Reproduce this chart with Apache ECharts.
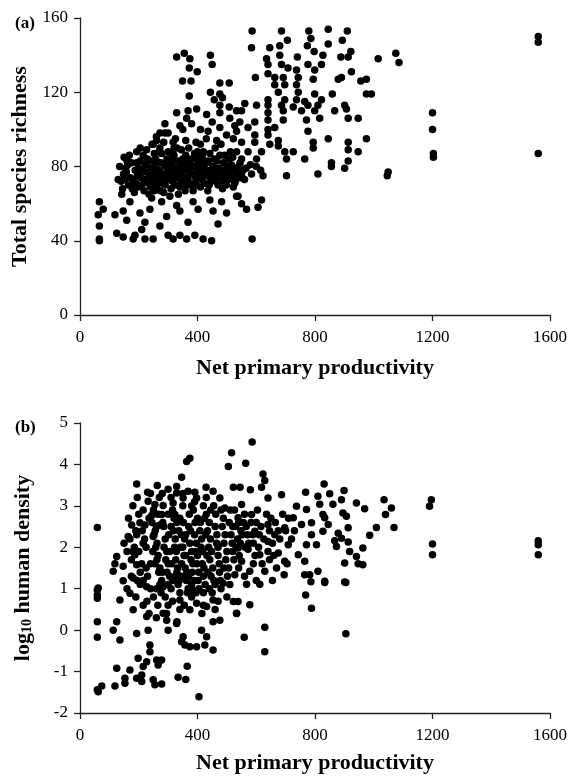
<!DOCTYPE html>
<html>
<head>
<meta charset="utf-8">
<script src="https://cdn.jsdelivr.net/npm/echarts@6/dist/echarts.min.js"></script>
<style>
  html, body { margin: 0; padding: 0; background: #fff; }
  #chart { width: 574px; height: 776px; }
</style>
</head>
<body>
<div id="chart"></div>
<script>
// (a) net primary productivity vs total species richness
const richnessPts = [
  [329,139],[355,141],[374,138],[372,133],[399,131],[444,140],[450,135],[349,126],[378,126],[372,118],
  [476,125],[508,125],[444,120],[476,119],[457,116],[485,117],[476,113],[508,112],[476,109],[329,109],
  [368,110],[397,111],[431,108],[363,106],[289,103],[340,102],[510,106],[533,110],[527,102],[272,98],
  [289,98],[476,101],[436,99],[499,97],[261,94],[249,92],[317,93],[522,95],[193,88],[227,89],[272,90],
  [130,73],[66,61],[79,57],[62,54],[66,48],[66,41],[66,40],[142,65],[170,61],[119,54],[147,56],[159,51],
  [125,44],[147,42],[181,41],[187,43],[221,41],[249,41],[210,46],[204,55],[221,50],[238,57],[272,48],
  [295,53],[300,43],[317,41],[340,43],[363,41],[391,43],[419,41],[448,40],[340,56],[368,50],[329,59],
  [385,61],[402,57],[453,56],[470,49],[499,55],[482,61],[533,64],[442,62],[278,61],[306,64],[244,63],
  [522,69],[499,76],[510,73],
  [586,153],[686,153],[779,153],[845,154],[910,153],[584,144],[646,144],[680,145],[706,148],[786,149],
  [774,145],[845,146],[893,148],[922,142],[797,142],[635,138],[680,140],[740,139],[827,140],[888,139],
  [913,139],[1015,138],[640,135],[686,135],[776,135],[822,135],[640,130],[708,133],[737,132],[799,132],
  [597,128],[663,128],[692,128],[743,128],[794,127],[890,128],[924,131],[956,126],[975,127],[879,127],
  [663,124],[697,124],[737,124],[675,120],[743,120],[799,119],[859,119],[975,119],[992,119],[640,116],
  [697,116],[737,116],[765,115],[822,116],[561,114],[601,113],[640,113],[686,113],[726,112],[776,113],
  [810,113],[901,113],[550,110],[640,109],[692,110],[754,110],[799,110],[867,110],[907,111],[544,104],
  [595,104],[640,105],[692,105],[771,105],[816,106],[913,106],[947,106],[572,101],[640,100],[663,101],
  [533,99],[595,97],[640,97],[776,99],[845,95],[975,95],[913,93],[913,89],[947,88],[794,93],[794,90],
  [550,93],[595,93],[675,94],[646,92],[675,91],[572,88],[618,88],[697,88],[726,88],[533,88],[703,84],
  [765,84],[856,82],[913,83],[601,84],[550,84],
  [856,80],[901,79],[810,76],[703,75],[1049,77],[1046,75],[623,75],[584,76],[550,75],[538,64],[550,60],
  [567,57],[618,62],[606,58],[586,41],[527,71],[540,80],[555,78],[545,82],[565,79],[580,81],[600,80],
  [615,78],[560,73],[530,77],
  [1075,141],[1086,136],[1200,109],[1200,100],[1203,87],[1203,85],[1560,150],[1560,147],[1560,87],
  [140,72],[148,76],[155,79],[160,83],[165,70],[172,74],[178,68],[135,80],[150,85],
  [185,66],[190,71],[196,75],[200,79],[205,83],[210,70],[215,86],[220,73],[225,77],[228,81],[218,67],
  [235,65],[240,69],[245,72],[250,76],[255,80],[258,84],[262,70],[266,74],[270,78],[275,82],[278,87],[252,67],
  [285,66],[290,70],[294,73],[298,77],[302,80],[306,84],[310,68],[314,72],[318,76],[322,79],[326,83],[300,88],[288,81],
  [335,65],[340,69],[344,72],[348,75],[352,78],[356,82],[360,86],[364,70],[368,73],[372,77],[376,80],[380,84],
  [345,89],[370,90],[358,67],
  [385,67],[390,71],[394,74],[398,77],[402,81],[406,85],[410,69],[414,73],[418,76],[422,79],[426,83],[400,88],
  [435,67],[440,70],[444,74],[448,77],[452,80],[458,84],[462,72],[468,76],[472,79],[476,86],
  [485,68],[490,72],[495,76],[500,80],[505,84],[512,88],[518,74],[525,79],
  [230,84],[270,88],[320,86],[330,90],[390,87],[420,88],[460,90],[175,82],[200,76],[280,74],[340,80],[430,82],
  [145,68],[152,73],[158,77],[163,81],[168,86],[182,72],[188,78],[193,82],[198,69],[208,74],[212,78],[222,81],
  [232,71],[238,75],[243,79],[248,83],[253,87],[260,73],[264,77],[268,82],[273,67],[282,71],[286,76],[292,80],
  [296,84],[304,74],[308,78],[312,82],[316,87],[324,70],[328,74],[332,78],[336,83],[342,76],[346,79],[350,84],
  [354,71],[362,74],[366,79],[374,83],[378,70],[382,76],[388,80],[392,84],[396,70],[404,74],[408,78],[412,82],
  [416,86],[424,71],[428,75],[432,78],[438,83],[442,87],[446,72],[454,75],[460,79],[466,83],[470,70],[478,74],
  [482,78],[488,82],[492,86],[498,70],[502,75],[508,77],[515,81],[520,85],[528,72],[535,76],[545,74],
  [205,90],[245,92],[285,93],[325,95],[360,94],[395,93],[430,95],[465,94],[300,98],[350,100],[410,100],
  [450,104],[380,103],[260,96],[320,90],[410,92],[480,92]
];

// (b) net primary productivity vs log10 human density
const densityPts = [
  [516,4.28],[505,3.95],[374,4.15],[363,4.07],[346,3.69],[193,3.53],[263,3.49],[230,3.33],[329,3.47],[329,3.31],
  [368,3.35],[391,3.33],[429,3.45],[453,3.35],[522,3.45],[232,3.11],[255,3.03],[283,3.01],[317,3.07],[351,3.19],
  [397,3.19],[476,3.19],[493,2.95],[244,2.77],[278,2.79],[323,2.79],[59,2.48],[176,2.54],[204,2.59],[221,2.54],
  [270,2.53],[164,2.26],[193,2.30],[249,2.26],[215,2.10],[125,1.78],[119,1.60],[147,1.54],[113,1.42],[187,1.82],
  [193,1.58],[147,1.19],[181,1.26],[62,1.02],
  [59,0.97],[59,0.85],[59,0.77],[59,0.20],[59,-0.17],[59,-1.44],[62,-1.49],[74,-1.35],[119,-1.35],[125,-0.92],
  [136,-0.24],[113,0.0],[125,0.20],[153,-1.16],[153,-1.28],[170,-0.96],[193,-0.08],[198,-0.68],[193,-1.16],
  [210,-1.08],[215,-0.88],[227,-0.76],[210,-1.24],[232,0.0],[238,-0.36],[238,-0.52],[249,-1.20],[255,-1.32],
  [261,-0.72],[266,-0.84],[278,-0.72],[278,-1.30],[334,-1.14],[360,-1.19],[365,-0.87],[405,-1.61],[300,0.0],
  [295,0.24],[329,0.16],[346,-0.28],[357,-0.36],[374,-0.40],[397,-0.40],[351,-0.16],[425,-0.36],[431,-0.16],
  [453,-0.48],[414,0.0],[453,0.20],[476,0.24],[533,0.40],[522,0.69],[136,0.73],[170,0.89],[181,0.49],[227,0.33],
  [283,0.41],[374,0.49],[340,0.73],[397,0.65],[431,0.57],[453,0.73],[227,1.05],[283,1.05],[385,0.97],[487,1.13],
  [586,4.54],[564,4.03],[623,3.77],[629,3.61],[618,3.45],[545,3.45],[580,3.39],[831,3.53],[768,3.33],[850,3.29],
  [899,3.37],[810,3.23],[816,3.04],[861,3.04],[890,3.15],[941,3.07],[969,2.93],[1035,3.15],[1060,2.95],[1040,2.79],
  [895,2.83],[907,2.75],[913,2.47],[833,2.71],[845,2.55],[1009,2.48],[986,2.29],[1069,2.48],[879,2.34],[890,2.22],
  [913,2.13],[867,2.16],[873,2.02],[963,1.98],[918,1.90],[941,1.78],[901,1.62],[947,1.60],[963,1.58],[833,1.18],
  [901,1.16],[810,1.42],[782,1.34],[765,1.34],[695,1.34],[669,1.50],[697,1.66],[765,1.66],[743,1.82],[771,2.06],
  [805,2.06],[788,2.30],[827,2.39],[754,2.55],[788,2.59],[827,2.79],[771,2.91],[737,2.99],[686,3.27],[640,3.19],
  [726,2.71],[697,2.47],[640,2.55],[584,2.79],[550,3.03],[538,2.71],[595,2.39],[663,2.30],[640,2.14],[709,2.06],
  [538,1.98],[572,1.95],[612,1.82],[640,1.90],[675,1.86],[550,1.66],[578,1.42],[629,1.42],[567,1.11],[612,1.11],
  [527,1.34],
  [538,0.69],[578,0.61],[533,0.41],[629,0.07],[559,-0.17],[629,-0.52],[768,0.85],[788,0.53],[786,1.17],[833,1.15],
  [905,1.15],[905,-0.09],
  [1196,3.15],[1190,2.99],[1200,2.08],[1200,1.82],[1560,2.16],[1560,2.06],[1560,1.82],
  [245,2.6],[252,2.3],[258,2.0],[262,1.7],[268,1.4],[272,1.1],[276,0.9],[248,1.9],[265,2.8],
  [285,2.5],[290,2.2],[295,1.9],[300,1.6],[305,1.3],[310,1.0],[315,2.9],[318,2.4],[322,2.0],[326,1.7],[330,1.4],
  [334,1.1],[290,0.8],
  [340,2.7],[345,2.3],[350,2.0],[354,1.8],[358,1.5],[362,1.2],[366,0.9],[370,2.5],[374,2.1],[378,1.7],[382,1.4],
  [386,2.9],[390,2.3],[394,1.9],[398,1.6],[402,1.2],
  [410,2.6],[414,2.2],[418,1.9],[422,1.5],[426,1.1],[430,2.8],[434,2.4],[438,2.0],[442,1.7],[446,1.3],[450,0.9],
  [455,3.0],[460,2.5],[465,2.1],[470,1.8],[475,1.4],[480,1.0],
  [488,2.7],[494,2.3],[500,1.9],[506,1.5],[512,2.9],[518,2.1],[524,1.7],[530,2.5],[536,2.2],[542,1.8],[548,2.4],
  [556,2.6],[562,2.0],[570,2.3],[590,2.1],[600,2.6],[610,2.3],[620,1.6],[650,2.7],[660,1.8],[680,2.2],[700,2.4],
  [720,2.2],[705,1.6],
  [200,1.9],[210,1.6],[220,2.2],[230,1.3],[235,2.7],[215,1.2],[200,2.8],[185,2.0],[175,1.7],[170,2.2],[160,1.9],
  [240,1.0],[228,0.7],
  [300,2.8],[330,2.6],[360,2.3],[400,2.7],[420,3.0],[445,2.9],[380,3.0],[350,3.3],[310,3.2],[270,3.2],[300,0.6],
  [340,0.5],[380,0.8],[420,0.6],[460,0.5],[500,0.8],[330,0.2],[260,0.3],
  [250,2.9],[256,2.4],[262,2.1],[266,1.8],[272,1.5],[278,1.2],[282,2.6],[286,2.0],[292,1.7],[296,1.4],[302,2.3],
  [306,1.9],[312,1.6],[316,1.2],[320,2.7],[324,2.2],[328,1.9],[332,1.5],[336,2.4],[338,1.2],[342,2.0],[346,1.6],
  [352,2.6],[356,2.2],[360,1.8],[364,1.4],[368,1.0],[372,2.8],[376,2.4],[380,1.9],[384,1.6],[388,1.2],[392,2.6],
  [396,2.1],[400,1.8],[404,1.4],[408,2.4],[412,2.0],[416,1.6],[420,1.3],[424,2.7],[428,2.3],[432,1.8],[436,1.4],
  [440,2.6],[444,2.2],[448,1.9],[452,1.5],[456,1.2],[462,2.8],[466,2.3],[470,2.0],[474,1.6],[478,1.2],[484,2.5],
  [490,2.1],[496,1.7],[502,1.3],[508,2.6],[514,2.3],[520,1.9],[526,2.9],[532,2.0],[540,2.6],[546,2.1],[552,2.3],
  [560,2.8],[566,2.5],[574,2.1],[582,2.6],[588,2.3],[596,1.8],[604,2.9],[608,2.0],[616,2.5],[626,2.2],[635,2.8],
  [645,2.4],[655,2.1],[665,2.6],[675,2.4],[690,2.8],[710,2.7],[730,2.4],[260,1.0],[300,1.1],[340,0.9],[380,1.1],
  [420,0.9],[460,1.1],[240,1.6],[225,2.0],[212,2.4],[190,2.4],[180,1.9],[205,1.4],[350,3.0],[390,3.1],[430,3.2],
  [280,3.3],[300,3.4],[310,2.5],[255,1.6],[520,2.5],[480,2.9],
  [160,1.0],[175,1.3],[190,0.8],[205,1.1],[215,0.6],[235,0.4],[250,0.8],[265,0.6],[280,1.4],[295,0.4],[315,0.7],
  [325,1.3],[345,1.3],[355,0.6],[370,1.3],[395,0.9],[405,1.0],[415,0.4],[440,1.0],[470,0.7],[490,1.5],[510,1.1],
  [540,1.5],[560,1.3],[590,1.6],[600,1.2],[645,1.7],[655,1.2],[150,2.1],[165,2.7],[180,3.0],[195,3.2],[215,2.9],
  [240,3.3],[260,2.5],[225,1.5],[195,1.2]
];

const xRange = [0, 1600, 400];
const richnessRange = [0, 160, 40];
const densityRange = [-2, 5, 1];

const serif = 'Liberation Serif';
const black = '#000';

function xAxisOf (gridIndex, gap) {
  return {
    gridIndex: gridIndex,
    type: 'value',
    min: xRange[0],
    max: xRange[1],
    interval: xRange[2],
    name: 'Net primary productivity',
    nameLocation: 'middle',
    nameGap: gap,
    nameTextStyle: { fontFamily: serif, fontWeight: 'bold', fontSize: 22, color: black },
    axisLine: { show: true, onZero: false, lineStyle: { color: '#222', width: 1.3 } },
    axisTick: { show: true, inside: false, length: 6, lineStyle: { color: '#222', width: 1.3 } },
    axisLabel: { fontFamily: serif, fontSize: 17, color: black, margin: 14, formatter: v => String(v) },
    splitLine: { show: false }
  }
}

function yAxisOf (gridIndex, range, name, gap) {
  return {
    gridIndex: gridIndex,
    type: 'value',
    min: range[0],
    max: range[1],
    interval: range[2],
    name: name,
    nameLocation: 'middle',
    nameRotate: 90,
    nameGap: gap,
    nameTextStyle: {
      fontFamily: serif, fontWeight: 'bold', fontSize: 22, color: black,
      rich: {
        sub: { fontFamily: serif, fontWeight: 'bold', fontSize: 14, color: black, verticalAlign: 'bottom', padding: [8, 0, 0, 0] }
      }
    },
    axisLine: { show: true, onZero: false, lineStyle: { color: '#222', width: 1.3 } },
    axisTick: { show: true, inside: false, length: 6, lineStyle: { color: '#222', width: 1.3 } },
    axisLabel: { fontFamily: serif, fontSize: 17, color: black, margin: 12, formatter: v => String(v) },
    splitLine: { show: false }
  }
}

const dotStyle = { color: black, opacity: 1 };

const chart = echarts.init(document.getElementById('chart'), null, { renderer: 'canvas' });
chart.setOption({
  backgroundColor: '#fff',
  animation: false,
  title: [
    { text: '(a)', left: 10, top: 10, textStyle: { fontFamily: serif, fontWeight: 'bold', fontSize: 17, color: black } },
    { text: '(b)', left: 10, top: 414, textStyle: { fontFamily: serif, fontWeight: 'bold', fontSize: 17, color: black } }
  ],
  grid: [
    { left: 80, top: 18, width: 470, height: 297 },
    { left: 80, top: 423, width: 470, height: 290 }
  ],
  xAxis: [xAxisOf(0, 42), xAxisOf(1, 39)],
  yAxis: [
    yAxisOf(0, richnessRange, 'Total species richness', 48),
    yAxisOf(1, densityRange, 'log{sub|10} human density', 46)
  ],
  series: [
    {
      type: 'scatter', xAxisIndex: 0, yAxisIndex: 0,
      symbol: 'circle', symbolSize: 7.5,
      itemStyle: dotStyle,
      data: richnessPts
    },
    {
      type: 'scatter', xAxisIndex: 1, yAxisIndex: 1,
      symbol: 'circle', symbolSize: 7.5,
      itemStyle: dotStyle,
      data: densityPts
    }
  ]
});
</script>
</body>
</html>
